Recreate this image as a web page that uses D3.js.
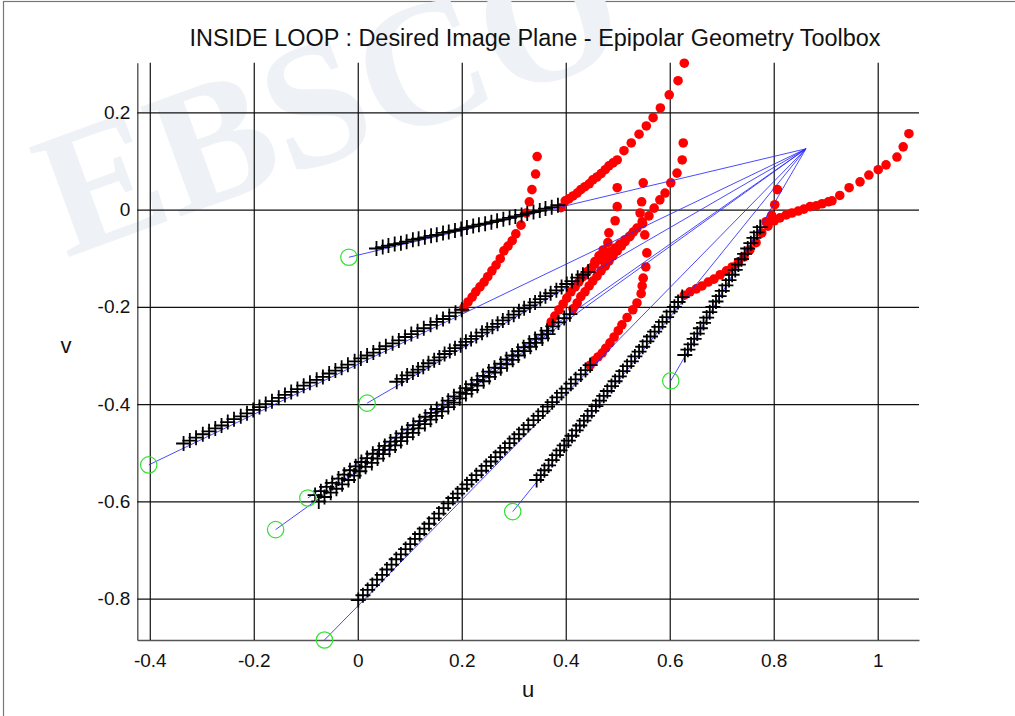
<!DOCTYPE html>
<html>
<head>
<meta charset="utf-8">
<script src="https://cdn.jsdelivr.net/npm/d3@7"></script>
<style>
body { margin: 0; background: #fff; }
svg { display: block; font-family: "Liberation Sans", Arial, sans-serif; }
</style>
</head>
<body>
<svg id="chart"></svg>
<script>
var width = 1015;
var height = 716;

var xTicks = [-0.4, -0.2, 0, 0.2, 0.4, 0.6, 0.8, 1];
var yTicks = [-0.8, -0.6, -0.4, -0.2, 0, 0.2];

// epipole and initial feature positions (green circles)
var epipole = [0.862, 0.125];
var startPoints = [[-0.017, -0.098], [-0.402, -0.525], [0.018, -0.398], [-0.096, -0.593],
                   [-0.158, -0.658], [-0.064, -0.885], [0.298, -0.621], [0.602, -0.352]];

// first phase: points sliding along epipolar lines (black +)
var black1 = [[0.036,-0.080],[0.048,-0.077],[0.059,-0.074],[0.071,-0.071],[0.083,-0.069],[0.094,-0.066],[0.106,-0.062],[0.117,-0.060],[0.129,-0.057],[0.141,-0.054],[0.152,-0.052],[0.164,-0.048],[0.175,-0.046],[0.187,-0.043],[0.199,-0.040],[0.210,-0.037],[0.222,-0.034],[0.233,-0.031],[0.245,-0.029],[0.257,-0.026],[0.268,-0.023],[0.280,-0.020],[0.292,-0.017],[0.303,-0.014],[0.315,-0.011],[0.326,-0.008],[0.338,-0.005],[0.350,-0.002],[0.361,0.002],[0.373,0.005],[0.385,0.009]];
var black2 = [[-0.335,-0.481],[-0.323,-0.475],[-0.311,-0.469],[-0.298,-0.462],[-0.286,-0.456],[-0.274,-0.450],[-0.262,-0.444],[-0.250,-0.437],[-0.238,-0.431],[-0.225,-0.425],[-0.213,-0.419],[-0.201,-0.412],[-0.189,-0.406],[-0.177,-0.400],[-0.165,-0.394],[-0.152,-0.387],[-0.140,-0.381],[-0.128,-0.375],[-0.116,-0.369],[-0.104,-0.362],[-0.092,-0.356],[-0.079,-0.350],[-0.067,-0.344],[-0.055,-0.337],[-0.043,-0.331],[-0.031,-0.325],[-0.019,-0.319],[-0.006,-0.312],[0.006,-0.306],[0.018,-0.300],[0.030,-0.294],[0.042,-0.287],[0.054,-0.281],[0.067,-0.275],[0.079,-0.269],[0.091,-0.262],[0.103,-0.256],[0.115,-0.250],[0.127,-0.244],[0.140,-0.237],[0.152,-0.231],[0.164,-0.225],[0.176,-0.219],[0.188,-0.212],[0.200,-0.206]];
var black3 = [[0.075,-0.354],[0.085,-0.348],[0.095,-0.341],[0.106,-0.335],[0.116,-0.329],[0.126,-0.323],[0.136,-0.316],[0.147,-0.310],[0.157,-0.304],[0.167,-0.297],[0.177,-0.291],[0.187,-0.285],[0.198,-0.279],[0.208,-0.272],[0.218,-0.266],[0.228,-0.260],[0.239,-0.253],[0.249,-0.247],[0.259,-0.241],[0.269,-0.235],[0.279,-0.228],[0.290,-0.222],[0.300,-0.216],[0.310,-0.209],[0.320,-0.203],[0.331,-0.197],[0.341,-0.191],[0.351,-0.184],[0.361,-0.178],[0.371,-0.172],[0.382,-0.166],[0.392,-0.159],[0.402,-0.153],[0.412,-0.147],[0.423,-0.140],[0.433,-0.134],[0.443,-0.128]];
var black4 = [[-0.082,-0.587],[-0.071,-0.579],[-0.060,-0.570],[-0.049,-0.562],[-0.037,-0.553],[-0.026,-0.545],[-0.015,-0.536],[-0.004,-0.528],[0.007,-0.519],[0.018,-0.511],[0.029,-0.502],[0.041,-0.494],[0.052,-0.486],[0.063,-0.477],[0.074,-0.469],[0.085,-0.460],[0.096,-0.452],[0.107,-0.443],[0.119,-0.435],[0.130,-0.426],[0.141,-0.418],[0.152,-0.410],[0.163,-0.401],[0.174,-0.393],[0.185,-0.384],[0.197,-0.376],[0.208,-0.367],[0.219,-0.359],[0.230,-0.350],[0.241,-0.342],[0.252,-0.333],[0.263,-0.325],[0.275,-0.317],[0.286,-0.308],[0.297,-0.300],[0.308,-0.291],[0.319,-0.283],[0.330,-0.274],[0.341,-0.266],[0.353,-0.257],[0.364,-0.249],[0.375,-0.240],[0.386,-0.232],[0.397,-0.223],[0.408,-0.215]];
var black5 = [[-0.075,-0.600],[-0.064,-0.591],[-0.052,-0.582],[-0.041,-0.574],[-0.030,-0.565],[-0.018,-0.556],[-0.007,-0.547],[0.004,-0.538],[0.015,-0.529],[0.027,-0.521],[0.038,-0.512],[0.049,-0.503],[0.061,-0.494],[0.072,-0.485],[0.083,-0.476],[0.095,-0.468],[0.106,-0.459],[0.117,-0.450],[0.129,-0.441],[0.140,-0.432],[0.151,-0.424],[0.162,-0.415],[0.174,-0.406],[0.185,-0.397],[0.196,-0.388],[0.208,-0.379],[0.219,-0.371],[0.230,-0.362],[0.242,-0.353],[0.253,-0.344],[0.264,-0.335],[0.275,-0.326],[0.287,-0.318],[0.298,-0.309],[0.309,-0.300],[0.321,-0.291],[0.332,-0.282],[0.343,-0.274],[0.355,-0.265],[0.366,-0.256]];
var black6 = [[0.001,-0.803],[0.010,-0.793],[0.019,-0.782],[0.028,-0.772],[0.037,-0.761],[0.047,-0.751],[0.056,-0.740],[0.065,-0.730],[0.074,-0.719],[0.083,-0.709],[0.092,-0.698],[0.101,-0.688],[0.110,-0.677],[0.119,-0.667],[0.128,-0.656],[0.137,-0.646],[0.147,-0.635],[0.156,-0.625],[0.165,-0.614],[0.174,-0.604],[0.183,-0.593],[0.192,-0.584],[0.201,-0.574],[0.210,-0.565],[0.219,-0.556],[0.228,-0.546],[0.238,-0.537],[0.247,-0.527],[0.256,-0.518],[0.265,-0.509],[0.274,-0.499],[0.283,-0.490],[0.292,-0.480],[0.301,-0.471],[0.310,-0.462],[0.319,-0.452],[0.328,-0.443],[0.338,-0.433],[0.347,-0.424],[0.356,-0.415],[0.365,-0.405],[0.374,-0.396],[0.383,-0.386],[0.392,-0.377],[0.401,-0.368],[0.410,-0.358],[0.419,-0.349],[0.429,-0.339],[0.438,-0.330],[0.447,-0.320]];
var black7 = [[0.344,-0.556],[0.352,-0.546],[0.359,-0.536],[0.367,-0.526],[0.374,-0.515],[0.382,-0.505],[0.389,-0.495],[0.397,-0.485],[0.405,-0.475],[0.412,-0.465],[0.420,-0.454],[0.427,-0.444],[0.435,-0.434],[0.442,-0.424],[0.450,-0.414],[0.458,-0.404],[0.465,-0.393],[0.473,-0.383],[0.480,-0.373],[0.488,-0.363],[0.495,-0.353],[0.503,-0.343],[0.510,-0.332],[0.518,-0.322],[0.526,-0.312],[0.533,-0.302],[0.541,-0.292],[0.548,-0.282],[0.556,-0.271],[0.563,-0.261],[0.571,-0.251],[0.579,-0.241],[0.586,-0.231],[0.594,-0.221],[0.601,-0.210],[0.609,-0.200],[0.616,-0.190],[0.624,-0.180]];
var black8 = [[0.629,-0.299],[0.635,-0.288],[0.641,-0.277],[0.647,-0.266],[0.653,-0.255],[0.659,-0.244],[0.665,-0.233],[0.671,-0.222],[0.677,-0.211],[0.683,-0.200],[0.689,-0.189],[0.695,-0.178],[0.701,-0.167],[0.708,-0.156],[0.714,-0.145],[0.720,-0.134],[0.726,-0.124],[0.732,-0.113],[0.738,-0.102],[0.744,-0.091],[0.750,-0.080],[0.756,-0.069],[0.762,-0.058],[0.768,-0.047],[0.774,-0.036]];

// second phase (red dots)
var red1 = [[0.391,0.004],[0.399,0.018],[0.406,0.022],[0.414,0.028],[0.422,0.034],[0.429,0.041],[0.437,0.047],[0.445,0.053],[0.452,0.061],[0.460,0.067],[0.468,0.074],[0.476,0.082],[0.483,0.090],[0.491,0.096],[0.499,0.102],[0.512,0.121],[0.526,0.137],[0.541,0.155],[0.555,0.172],[0.568,0.189],[0.582,0.209],[0.599,0.236],[0.616,0.265],[0.628,0.301]];
var red2 = [[0.204,-0.202],[0.212,-0.190],[0.220,-0.180],[0.227,-0.169],[0.235,-0.159],[0.243,-0.149],[0.250,-0.138],[0.258,-0.126],[0.266,-0.114],[0.274,-0.101],[0.281,-0.085],[0.289,-0.075],[0.297,-0.064],[0.304,-0.050],[0.314,-0.032],[0.324,-0.007],[0.330,0.016],[0.335,0.041],[0.342,0.073],[0.345,0.109]];
var red3 = [[0.449,-0.120],[0.456,-0.107],[0.464,-0.095],[0.472,-0.083],[0.481,-0.068],[0.483,-0.048],[0.495,-0.023],[0.499,0.006],[0.499,0.045]];
var red4 = [[0.414,-0.204],[0.422,-0.192],[0.429,-0.179],[0.437,-0.169],[0.445,-0.157],[0.452,-0.147],[0.460,-0.137],[0.468,-0.126],[0.476,-0.116],[0.483,-0.106],[0.491,-0.095],[0.499,-0.085],[0.507,-0.075],[0.514,-0.066],[0.522,-0.056],[0.530,-0.046],[0.537,-0.038],[0.547,-0.025],[0.560,-0.013],[0.570,0.003],[0.581,0.020],[0.591,0.034],[0.602,0.055],[0.614,0.075],[0.624,0.102],[0.626,0.137]];
var red5 = [[0.372,-0.231],[0.379,-0.219],[0.387,-0.206],[0.395,-0.194],[0.402,-0.182],[0.410,-0.169],[0.418,-0.159],[0.425,-0.149],[0.433,-0.138],[0.441,-0.128],[0.449,-0.120],[0.456,-0.112],[0.466,-0.103],[0.476,-0.095],[0.485,-0.087],[0.495,-0.079],[0.504,-0.071],[0.514,-0.062],[0.524,-0.054]];
var red6 = [[0.447,-0.320],[0.454,-0.311],[0.462,-0.303],[0.470,-0.295],[0.477,-0.285],[0.485,-0.274],[0.493,-0.262],[0.501,-0.249],[0.508,-0.237],[0.518,-0.222],[0.529,-0.206],[0.537,-0.192],[0.545,-0.173],[0.547,-0.157],[0.549,-0.141],[0.554,-0.118],[0.556,-0.089],[0.552,-0.052],[0.548,-0.029],[0.543,-0.007],[0.546,0.016],[0.549,0.055]];
var red7 = [[0.628,-0.176],[0.639,-0.169],[0.651,-0.163],[0.662,-0.157],[0.674,-0.149],[0.685,-0.143],[0.697,-0.134],[0.709,-0.126],[0.720,-0.118],[0.732,-0.108],[0.743,-0.097],[0.754,-0.083],[0.766,-0.068],[0.777,-0.048],[0.789,-0.034],[0.801,-0.023],[0.812,-0.017],[0.824,-0.011],[0.835,-0.007],[0.847,-0.003],[0.858,0.001],[0.870,0.006],[0.882,0.008],[0.893,0.012],[0.905,0.016],[0.912,0.018],[0.927,0.029],[0.945,0.045],[0.966,0.057],[0.983,0.071],[1.001,0.082],[1.016,0.092],[1.037,0.108],[1.049,0.129],[1.060,0.156]];
var red8 = [[0.785,-0.025],[0.796,-0.012],[0.802,0.010],[0.807,0.041]];

var blackTracks = [black1, black2, black3, black4, black5, black6, black7, black8];
var redTracks = [red1, red2, red3, red4, red5, red6, red7, red8];

var plotLeft = 137.3, plotRight = 919, plotTop = 62.7, plotBottom = 640;

var x = d3.scaleLinear().domain([-0.424, 1.0794]).range([plotLeft, plotRight]);
var y = d3.scaleLinear().domain([-0.885, 0.302]).range([plotBottom, plotTop]);

var svg = d3.select('#chart')
    .attr('width', width)
    .attr('height', height);

// figure frame
svg.append('rect')
    .attr('x', 3.5).attr('y', 1.5)
    .attr('width', width + 10).attr('height', height + 10)
    .attr('fill', 'none')
    .attr('stroke', '#777')
    .attr('stroke-width', 1.2);

// faint watermark
svg.append('text')
    .attr('transform', 'translate(66,258) rotate(-20)')
    .attr('font-family', '"Liberation Serif", "DejaVu Serif", serif')
    .attr('font-weight', 'bold')
    .attr('font-size', 178)
    .attr('fill', '#eef2f6')
    .text('EBSCO');

// grid via axes
var xAxis = d3.axisBottom(x)
    .tickValues(xTicks)
    .tickFormat(d => String(d))
    .tickSizeInner(-(plotBottom - plotTop))
    .tickSizeOuter(0)
    .tickPadding(14);

var yAxis = d3.axisLeft(y)
    .tickValues(yTicks)
    .tickFormat(d => String(d))
    .tickSizeInner(-(plotRight - plotLeft))
    .tickSizeOuter(0)
    .tickPadding(7);

var gx = svg.append('g')
    .attr('transform', 'translate(0,' + plotBottom + ')')
    .call(xAxis);
var gy = svg.append('g')
    .attr('transform', 'translate(' + plotLeft + ',0)')
    .call(yAxis);

[gx, gy].forEach(function(g) {
    g.selectAll('.tick line').attr('stroke', '#111').attr('stroke-width', 1.2);
    g.select('.domain').attr('stroke', '#555').attr('stroke-width', 1.4);
    g.selectAll('.tick text')
        .attr('fill', '#111')
        .attr('font-size', 19)
        .attr('font-family', '"Liberation Sans", Arial, sans-serif');
});

// red second-phase points
svg.append('g')
    .selectAll('g')
    .data(redTracks)
    .join('g')
    .selectAll('circle')
    .data(d => d)
    .join('circle')
        .attr('cx', d => x(d[0]))
        .attr('cy', d => y(d[1]))
        .attr('r', 4.8)
        .attr('fill', '#ff0000');

// epipolar lines from initial points to epipole
svg.append('g')
    .selectAll('line')
    .data(startPoints)
    .join('line')
        .attr('x1', d => x(d[0]))
        .attr('y1', d => y(d[1]))
        .attr('x2', x(epipole[0]))
        .attr('y2', y(epipole[1]))
        .attr('stroke', '#2a2aff')
        .attr('stroke-width', 1)
        .attr('stroke-opacity', 0.85);

// black + markers
var plusType = {
    draw: function(context, size) {
        var r = Math.sqrt(size) / 2;
        context.moveTo(-r, 0);
        context.lineTo(r, 0);
        context.moveTo(0, -r);
        context.lineTo(0, r);
    }
};
var plusPath = d3.symbol().type(plusType).size(225);

svg.append('g')
    .selectAll('g')
    .data(blackTracks)
    .join('g')
    .selectAll('path')
    .data(d => d)
    .join('path')
        .attr('transform', d => 'translate(' + x(d[0]) + ',' + y(d[1]) + ')')
        .attr('d', plusPath)
        .attr('fill', 'none')
        .attr('stroke', '#000')
        .attr('stroke-width', 1.8);

// initial positions
svg.append('g')
    .selectAll('circle')
    .data(startPoints)
    .join('circle')
        .attr('cx', d => x(d[0]))
        .attr('cy', d => y(d[1]))
        .attr('r', 8.2)
        .attr('fill', 'none')
        .attr('stroke', '#33e033')
        .attr('stroke-width', 1.2);

// title and labels
var title = svg.append('text')
    .attr('x', 535)
    .attr('y', 46)
    .attr('text-anchor', 'middle')
    .attr('font-size', 23)
    .attr('fill', '#111')
    .text('INSIDE LOOP : Desired Image Plane - Epipolar Geometry Toolbox');
title.attr('textLength', 691).attr('lengthAdjust', 'spacingAndGlyphs');

svg.append('text')
    .attr('x', (plotLeft + plotRight) / 2)
    .attr('y', 697)
    .attr('text-anchor', 'middle')
    .attr('font-size', 22)
    .attr('fill', '#111')
    .text('u');

svg.append('text')
    .attr('x', 66)
    .attr('y', 353)
    .attr('text-anchor', 'middle')
    .attr('font-size', 22)
    .attr('fill', '#111')
    .text('v');
</script>
</body>
</html>
